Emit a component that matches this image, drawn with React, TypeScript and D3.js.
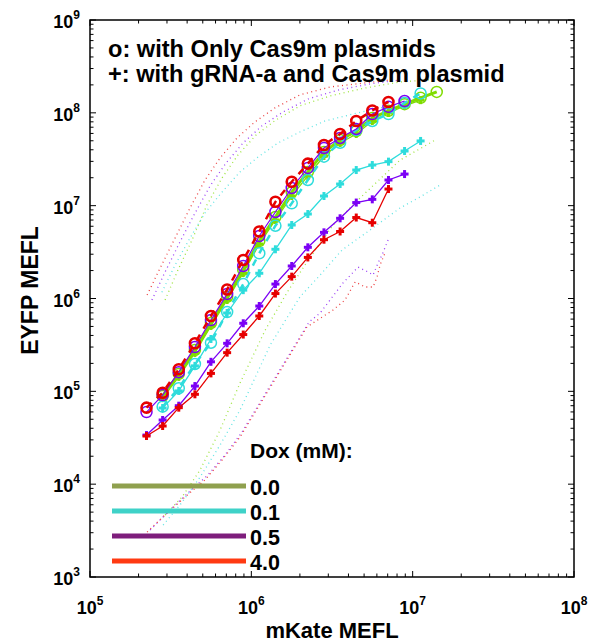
import React from 'react';
import * as d3 from 'd3';

const W = 591;
const H = 644;
const FRAME = { left: 90, top: 20, right: 574, bottom: 577 };
const FONT = '"Liberation Sans", Arial, Helvetica, sans-serif';

// mKate MEFL bin centres (0.1-decade bins)
const mKateBins = [
  2.24e5, 2.82e5, 3.55e5, 4.47e5, 5.62e5, 7.08e5, 8.91e5, 1.12e6, 1.41e6, 1.78e6,
  2.24e6, 2.82e6, 3.55e6, 4.47e6, 5.62e6, 7.08e6, 8.91e6, 1.12e7, 1.41e7,
];

// Dox levels and colours
const doxLabels = ['0.0', '0.1', '0.5', '4.0'];
const legendColors = ['#8fa04e', '#3fd2c8', '#7e1e7c', '#ff3a12'];
const seriesColors = ['#7fdc00', '#2edcdc', '#7b00f5', '#e60000'];

// EYFP MEFL, cells with only Cas9m plasmids ("o")
const onlyCas9_dox00 = [8.91e4, 1.54e5, 2.79e5, 5.45e5, 1.04e6, 2.03e6, 4.16e6, 7.55e6, 1.40e7, 2.31e7, 3.78e7, 5.09e7, 6.37e7, 8.80e7, 1.05e8, 1.24e8, 1.45e8, 1.68e8];
const onlyCas9_dox01 = [6.83e4, 1.08e5, 1.97e5, 3.34e5, 7.15e5, 1.43e6, 3.07e6, 6.08e6, 1.06e7, 1.89e7, 3.37e7, 4.76e7, 6.53e7, 8.17e7, 9.71e7, 1.28e8, 1.62e8];
const onlyCas9_dox05 = [5.98e4, 9.12e4, 1.61e5, 3.00e5, 5.86e5, 1.12e6, 2.24e6, 4.71e6, 8.55e6, 1.55e7, 2.55e7, 4.18e7, 5.36e7, 6.70e7, 9.71e7, 1.16e8, 1.34e8];
const onlyCas9_dox40 = [6.67e4, 9.66e4, 1.73e5, 3.29e5, 6.48e5, 1.25e6, 2.60e6, 5.27e6, 1.10e7, 1.81e7, 2.84e7, 4.50e7, 5.92e7, 8.17e7, 1.06e8, 1.31e8];
const onlyCas9_start = [1, 1, 0, 0];

// EYFP MEFL, cells with gRNA-a and Cas9m plasmid ("+")
const gRNA_dox00 = [8.47e4, 1.43e5, 2.59e5, 5.06e5, 9.64e5, 1.88e6, 3.86e6, 7.01e6, 1.27e7, 2.09e7, 3.43e7, 4.73e7, 5.92e7, 8.17e7, 9.96e7, 1.19e8, 1.37e8];
const gRNA_dox01 = [6.61e4, 1.01e5, 1.88e5, 3.66e5, 6.98e5, 1.23e6, 1.87e6, 3.39e6, 6.19e6, 8.13e6, 1.27e7, 1.71e7, 2.42e7, 2.74e7, 2.98e7, 3.88e7, 4.98e7];
const gRNA_dox05 = [3.38e4, 4.91e4, 7.00e4, 1.14e5, 2.08e5, 3.29e5, 5.41e5, 8.30e5, 1.43e6, 2.24e6, 3.56e6, 5.16e6, 7.31e6, 1.08e7, 1.17e7, 1.89e7, 2.19e7];
const gRNA_dox40 = [3.30e4, 4.23e4, 6.67e4, 9.29e4, 1.56e5, 2.61e5, 4.09e5, 6.48e5, 1.13e6, 1.72e6, 2.77e6, 4.30e6, 5.27e6, 7.45e6, 6.55e6, 1.51e7];
const gRNA_start = [1, 1, 0, 0];

// Spread envelopes: [mKate, EYFP]
const spreadHigh_dox00 = [[2.92e5, 9.64e5], [3.51e5, 2.03e6], [4.29e5, 4.27e6], [5.31e5, 1.02e7], [6.58e5, 1.99e7], [8.27e5, 3.52e7], [1.07e6, 5.77e7], [1.42e6, 8.37e7], [2.00e6, 1.19e8], [3.08e6, 1.52e8], [5.07e6, 1.85e8], [8.35e6, 2.15e8], [1.48e7, 2.31e8]];
const spreadHigh_dox01 = [[2.79e5, 1.17e6], [3.37e5, 2.30e6], [4.17e5, 4.49e6], [5.16e5, 8.34e6], [6.58e5, 1.40e7], [8.51e5, 2.31e7], [1.10e6, 3.34e7], [1.46e6, 4.73e7], [2.00e6, 6.22e7], [2.86e6, 8.17e7], [4.52e6, 9.96e7], [7.24e6, 1.19e8], [1.11e7, 1.37e8]];
const spreadHigh_dox05 = [[2.42e5, 9.64e5], [2.92e5, 1.93e6], [3.61e5, 4.06e6], [4.48e5, 8.34e6], [5.55e5, 1.63e7], [6.97e5, 2.88e7], [8.88e5, 4.73e7], [1.16e6, 7.21e7], [1.57e6, 1.02e8], [2.25e6, 1.41e8], [3.45e6, 1.76e8], [5.44e6, 2.05e8], [8.35e6, 2.26e8]];
const spreadHigh_dox40 = [[2.26e5, 1.09e6], [2.72e5, 2.13e6], [3.37e5, 4.49e6], [4.17e5, 9.44e6], [5.16e5, 1.89e7], [6.40e5, 3.26e7], [8.15e5, 5.36e7], [1.05e6, 7.96e7], [1.40e6, 1.13e8], [2.00e6, 1.56e8], [3.08e6, 1.90e8], [5.07e6, 2.10e8], [7.24e6, 2.26e8]];

const spreadLow_dox00 = [[2.92e5, 4.66e3], [3.72e5, 7.28e3], [4.81e5, 1.42e4], [6.40e5, 3.83e4], [8.51e5, 1.23e5], [1.22e6, 4.58e5], [1.66e6, 1.15e6], [2.21e6, 2.47e6], [3.21e6, 6.19e6], [4.72e6, 1.21e7], [8.35e6, 3.10e7], [1.38e7, 5.09e7]];
const spreadLow_dox01 = [[2.84e5, 3.63e3], [3.61e5, 5.96e3], [4.81e5, 1.19e4], [6.40e5, 2.64e4], [8.51e5, 6.29e4], [1.31e6, 3.16e5], [2.00e6, 1.04e6], [2.67e6, 1.79e6], [3.65e6, 3.33e6], [5.44e6, 5.47e6], [8.35e6, 9.44e6], [1.11e7, 1.24e7], [1.48e7, 1.67e7]];
const spreadLow_dox05 = [[2.36e5, 3.21e3], [3.04e5, 5.01e3], [4.05e5, 8.04e3], [5.39e5, 1.26e4], [6.87e5, 2.06e4], [8.76e5, 3.65e4], [1.40e6, 1.39e5], [2.28e6, 5.58e5], [2.67e6, 6.98e5], [3.70e6, 1.47e6], [4.59e6, 2.18e6], [5.29e6, 1.93e6], [5.68e6, 1.79e6], [6.10e6, 2.41e6], [6.46e6, 2.94e6], [7.04e6, 4.27e6]];
const spreadLow_dox40 = [[2.26e5, 3.05e3], [2.92e5, 4.66e3], [3.88e5, 7.28e3], [5.16e5, 1.11e4], [6.58e5, 1.82e4], [8.51e5, 3.22e4], [1.36e6, 1.23e5], [2.21e6, 4.93e5], [3.21e6, 7.52e5], [3.81e6, 9.64e5], [4.40e6, 1.51e6], [5.07e6, 1.33e6], [5.68e6, 1.33e6], [6.01e6, 1.70e6], [6.28e6, 2.30e6], [6.74e6, 3.09e6]];

const titleLines = ['o: with Only Cas9m plasmids', '+: with gRNA-a and Cas9m plasmid'];
const xMajor = [1e5, 1e6, 1e7, 1e8];
const yMajor = [1e3, 1e4, 1e5, 1e6, 1e7, 1e8, 1e9];

const x = d3.scaleLog().domain([1e5, 1e8]).range([FRAME.left, FRAME.right]);
const y = d3.scaleLog().domain([1e3, 1e9]).range([FRAME.bottom, FRAME.top]);

const line = d3
  .line<[number, number]>()
  .x((d) => x(d[0]))
  .y((d) => y(d[1]));

const pairs = (ys: number[], start: number): [number, number][] =>
  ys.map((v, i) => [mKateBins[start + i], v]);

const onlyCas9 = [onlyCas9_dox00, onlyCas9_dox01, onlyCas9_dox05, onlyCas9_dox40];
const gRNA = [gRNA_dox00, gRNA_dox01, gRNA_dox05, gRNA_dox40];
const spreadHigh = [spreadHigh_dox00, spreadHigh_dox01, spreadHigh_dox05, spreadHigh_dox40];
const spreadLow = [spreadLow_dox00, spreadLow_dox01, spreadLow_dox05, spreadLow_dox40];

// line styles for the "o" curves, per Dox level
const oStyle = [
  { width: 3, dash: undefined as string | undefined },
  { width: 2.5, dash: '7,7' },
  { width: 1.2, dash: undefined as string | undefined },
  { width: 2.5, dash: '7,7' },
];

function Plus({ cx, cy, color }: { cx: number; cy: number; color: string }) {
  const s = 4;
  return (
    <g stroke={color} strokeWidth={3}>
      <line x1={cx - s} x2={cx + s} y1={cy} y2={cy} />
      <line x1={cx} x2={cx} y1={cy - s} y2={cy + s} />
    </g>
  );
}

export default function App() {
  const xTicks = x.ticks();
  const yTicks = y.ticks();
  const isMajor = (v: number) => Math.abs(Math.log10(v) - Math.round(Math.log10(v))) < 1e-6;

  return (
    <svg
      width={W}
      height={H}
      style={{ position: 'absolute', left: 0, top: 0, background: '#fff' }}
      fontFamily={FONT}
    >
      <defs>
        <clipPath id="plot-area">
          <rect x={FRAME.left} y={FRAME.top} width={FRAME.right - FRAME.left} height={FRAME.bottom - FRAME.top} />
        </clipPath>
      </defs>

      {/* spread envelopes */}
      <g clipPath="url(#plot-area)" fill="none" strokeWidth={1.3} strokeDasharray="1,3.5" opacity={0.75}>
        {spreadHigh.map((s, i) => (
          <path key={'h' + i} d={line(s as [number, number][]) || ''} stroke={seriesColors[i]} />
        ))}
        {spreadLow.map((s, i) => (
          <path key={'l' + i} d={line(s as [number, number][]) || ''} stroke={seriesColors[i]} />
        ))}
      </g>

      {/* gRNA-a + Cas9m curves */}
      <g fill="none">
        {gRNA.map((ys, i) => {
          const pts = pairs(ys, gRNA_start[i]);
          return (
            <g key={'g' + i}>
              <path d={line(pts) || ''} stroke={seriesColors[i]} strokeWidth={1.3} />
              {pts.map((p, j) => (
                <Plus key={j} cx={x(p[0])} cy={y(p[1])} color={seriesColors[i]} />
              ))}
            </g>
          );
        })}
      </g>

      {/* Cas9m only curves */}
      <g fill="none">
        {onlyCas9.map((ys, i) => {
          const pts = pairs(ys, onlyCas9_start[i]);
          return (
            <g key={'o' + i}>
              <path
                d={line(pts) || ''}
                stroke={seriesColors[i]}
                strokeWidth={oStyle[i].width}
                strokeDasharray={oStyle[i].dash}
              />
              {pts.map((p, j) => (
                <circle
                  key={j}
                  cx={x(p[0])}
                  cy={y(p[1])}
                  r={i === 3 ? 5 : 5.5}
                  stroke={seriesColors[i]}
                  strokeWidth={i === 3 ? 2.6 : 1.5}
                />
              ))}
            </g>
          );
        })}
      </g>

      {/* frame and ticks */}
      <g stroke="#000" strokeWidth={1.5} fill="none">
        <rect x={FRAME.left} y={FRAME.top} width={FRAME.right - FRAME.left} height={FRAME.bottom - FRAME.top} />
        {xTicks.map((t, i) => {
          const len = isMajor(t) ? 6 : 3.5;
          const px = x(t);
          return (
            <g key={'xt' + i} strokeWidth={1}>
              <line x1={px} x2={px} y1={FRAME.bottom} y2={FRAME.bottom - len} />
              <line x1={px} x2={px} y1={FRAME.top} y2={FRAME.top + len} />
            </g>
          );
        })}
        {yTicks.map((t, i) => {
          const len = isMajor(t) ? 6 : 3.5;
          const py = y(t);
          return (
            <g key={'yt' + i} strokeWidth={1}>
              <line x1={FRAME.left} x2={FRAME.left + len} y1={py} y2={py} />
              <line x1={FRAME.right} x2={FRAME.right - len} y1={py} y2={py} />
            </g>
          );
        })}
      </g>

      {/* tick labels */}
      <g fontWeight="bold" fill="#000">
        {xMajor.map((t) => (
          <text key={'xl' + t} x={x(t)} y={614} textAnchor="middle" fontSize={18}>
            10
            <tspan dy={-9} fontSize={12}>
              {Math.round(Math.log10(t))}
            </tspan>
          </text>
        ))}
        {yMajor.map((t) => (
          <text key={'yl' + t} x={80} y={y(t) + 8} textAnchor="end" fontSize={18}>
            10
            <tspan dy={-9} fontSize={12}>
              {Math.round(Math.log10(t))}
            </tspan>
          </text>
        ))}
      </g>

      {/* axis titles */}
      <g fontWeight="bold" fill="#000">
        <text x={(FRAME.left + FRAME.right) / 2} y={638} textAnchor="middle" fontSize={22}>
          mKate MEFL
        </text>
        <text
          transform={`translate(38,${(FRAME.top + FRAME.bottom) / 2 - 8}) rotate(-90)`}
          textAnchor="middle"
          fontSize={23}
        >
          EYFP MEFL
        </text>
      </g>

      {/* marker key */}
      <g fontWeight="bold" fontSize={23.6} fill="#000">
        {titleLines.map((t, i) => (
          <text key={t} x={108} y={57 + i * 25}>
            {t}
          </text>
        ))}
      </g>

      {/* Dox legend */}
      <g fontWeight="bold" fill="#000">
        <text x={250} y={458} fontSize={21}>
          Dox (mM):
        </text>
        {doxLabels.map((lab, i) => {
          const ly = 486 + i * 25;
          return (
            <g key={lab}>
              <line x1={112} x2={246} y1={ly} y2={ly} stroke={legendColors[i]} strokeWidth={5} />
              <text x={250} y={ly + 9} fontSize={21.5}>
                {lab}
              </text>
            </g>
          );
        })}
      </g>
    </svg>
  );
}
